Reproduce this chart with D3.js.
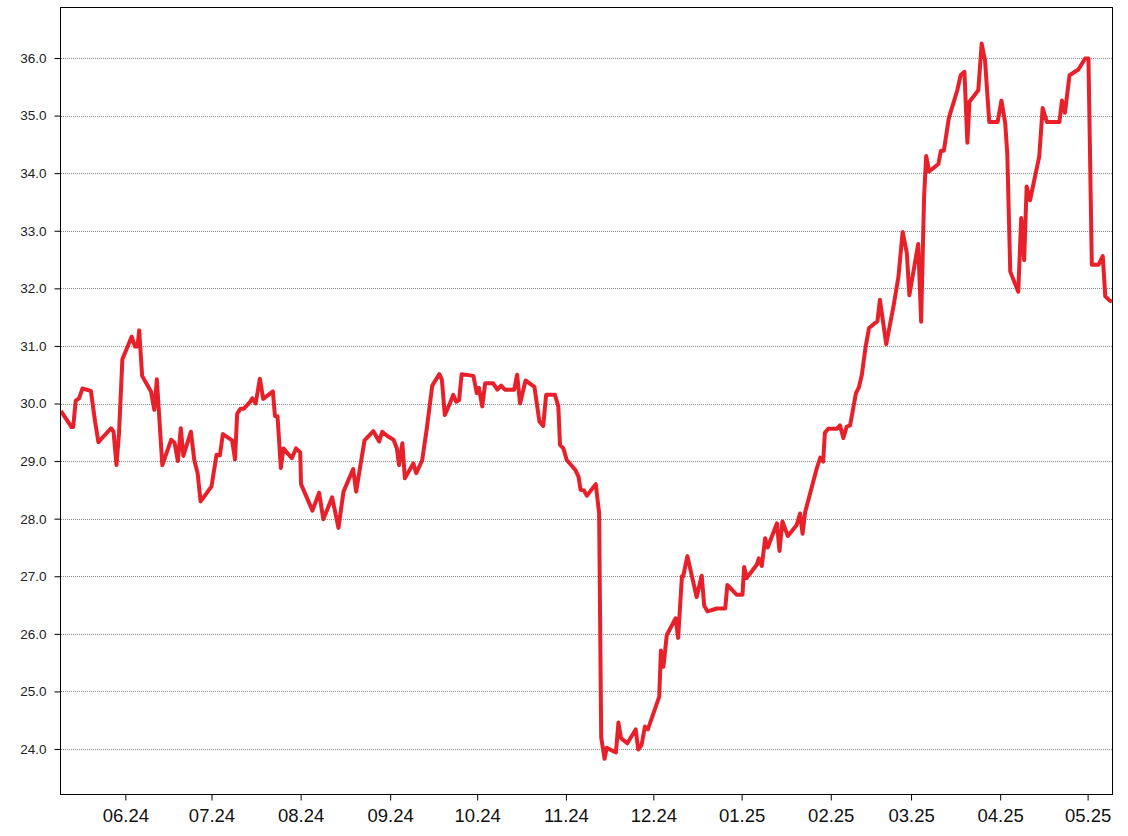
<!DOCTYPE html>
<html><head><meta charset="utf-8">
<script src="https://cdn.jsdelivr.net/npm/d3@7"></script>
<style>
html,body{margin:0;padding:0;background:#fff;}
svg{display:block;font-family:Arial,"Liberation Sans",sans-serif;}
</style></head>
<body><svg id="c" width="1128" height="836"></svg>
<script>
// trading-session index (0 = first session shown) and closing price
const sessions = [0,2.5,2.9,3.5,4.3,5.1,7.1,8.1,8.9,11.9,12.5,13.2,13.8,14.6,16.8,17.6,18.2,18.6,19.3,21.4,22.2,22.8,24.1,26.2,27.0,27.8,28.5,29.1,30.9,31.7,32.5,33.2,34.3,35.8,37.0,37.8,38.5,40.7,41.4,41.9,42.7,43.5,45.0,45.5,46.3,47.3,48.1,50.4,50.9,51.5,52.3,52.9,54.9,55.9,56.9,57.1,59.8,61.4,62.4,64.5,66.0,67.2,69.5,70.2,72.2,74.3,75.7,76.4,77.7,79.1,79.9,80.4,81.2,81.8,83.8,84.5,85.9,87.0,88.3,90.0,90.6,91.3,92.5,93.3,94.0,94.7,95.3,98.1,98.9,99.4,100.2,100.9,102.8,103.8,104.7,105.6,107.8,108.5,109.2,110.5,112.6,113.8,114.7,115.4,117.5,118.3,118.7,119.5,120.3,122.3,123.1,123.6,124.4,125.1,127.2,128.0,128.5,129.3,129.8,132.0,132.6,133.2,134.7,136.7,137.3,138.1,138.9,139.6,142.3,142.7,143.3,144.1,146.2,146.8,147.7,148.0,149.0,151.2,152.4,153.0,153.8,156.0,158.0,158.5,160.7,162.1,162.5,163.1,165.5,166.0,166.7,167.5,168.1,170.3,170.9,171.6,172.9,175.0,175.8,176.4,177.0,177.9,179.8,180.6,181.3,181.7,182.5,184.5,185.3,186.1,186.9,187.7,189.1,189.8,190.5,191.4,192.2,194.2,194.8,196.3,198.0,199.2,200.2,201.2,201.8,203.9,204.6,205.3,205.8,206.5,208.7,209.3,210.0,211.2,213.2,214.0,214.9,215.6,216.1,218.2,219.0,219.8,220.8,222.8,223.7,224.6,225.1,225.8,227.7,228.4,229.1,229.7,230.5,232.7,233.5,234.5,237.5,238.1,238.8,239.9,242.0,243.6,244.4,245.2,246.8,247.8,248.4,249.4,250];
const prices = [29.87,29.59,29.59,30.05,30.09,30.26,30.22,29.69,29.33,29.57,29.51,28.93,29.48,30.77,31.16,30.99,30.99,31.27,30.48,30.21,29.89,30.42,28.93,29.37,29.32,29.00,29.57,29.09,29.51,29.02,28.79,28.30,28.41,28.56,29.11,29.10,29.47,29.36,29.03,29.82,29.91,29.91,30.03,30.09,30.00,30.43,30.08,30.21,29.78,29.78,28.88,29.22,29.05,29.22,29.15,28.60,28.14,28.45,27.99,28.37,27.84,28.47,28.86,28.47,29.36,29.52,29.34,29.51,29.43,29.37,29.22,28.93,29.31,28.70,28.96,28.79,29.01,29.56,30.31,30.51,30.41,29.80,30.00,30.15,30.03,30.06,30.51,30.48,30.18,30.27,29.95,30.35,30.35,30.24,30.31,30.24,30.24,30.50,30.00,30.40,30.29,29.69,29.61,30.15,30.15,29.95,29.28,29.22,29.02,28.85,28.73,28.50,28.49,28.40,28.60,28.10,24.20,23.83,24.02,23.94,24.46,24.19,24.10,24.34,23.99,24.07,24.39,24.34,24.91,25.71,25.43,25.98,26.27,25.93,27.00,27.00,27.35,26.64,27.01,26.49,26.39,26.44,26.44,26.85,26.68,26.68,27.16,26.97,27.20,27.31,27.18,27.66,27.50,27.92,27.44,27.95,27.70,27.89,28.09,27.74,28.11,28.36,28.88,29.06,28.99,29.49,29.56,29.56,29.62,29.40,29.60,29.62,30.18,30.28,30.50,30.99,31.31,31.43,31.80,31.03,31.68,32.20,32.98,32.61,31.88,32.77,31.42,33.59,34.30,34.03,34.16,34.39,34.39,34.96,35.44,35.70,35.76,34.53,35.24,35.44,36.25,35.96,34.89,34.89,35.26,34.87,34.32,32.29,31.94,33.22,32.49,33.77,33.53,34.29,35.13,34.89,34.89,35.26,35.05,35.70,35.80,35.99,35.99,32.41,32.41,32.56,31.86,31.79,31.77];
// month starts, expressed on the same session axis
const tickSessions = [15.3,35.8,57.0,78.3,99.0,120.1,140.9,161.9,183.1,202.2,223.4,244.2];
const tickLabels = ["06.24","07.24","08.24","09.24","10.24","11.24","12.24","01.25","02.25","03.25","04.25","05.25"];
const yTicks = [24,25,26,27,28,29,30,31,32,33,34,35,36];

const svg = d3.select("#c");
const L = 61, R = 1112, T = 8, B = 794;
const x = d3.scaleLinear().domain([0, 250]).range([L, R]);
const y = d3.scaleLinear().domain([23.219, 36.868]).range([B, T]);

// grid
svg.append("g").selectAll("line").data(yTicks).join("line")
  .attr("x1", L).attr("x2", R)
  .attr("y1", d => Math.round(y(d)) + 0.5).attr("y2", d => Math.round(y(d)) + 0.5)
  .attr("stroke", "#8a8a8a").attr("stroke-width", 1).attr("stroke-dasharray", "1,1");

// y axis
const ya = svg.append("g").attr("transform", `translate(${L - 0.5},0)`)
  .call(d3.axisLeft(y).tickValues(yTicks).tickFormat(d3.format(".1f")).tickSize(6).tickSizeOuter(0));
ya.select(".domain").remove();
ya.selectAll(".tick line").attr("stroke", "#000");
ya.selectAll(".tick text").attr("font-size", 13.5).attr("fill", "#222").attr("x", -14).attr("font-family", "Arial, 'Liberation Sans', sans-serif");

// x axis
const xa = svg.append("g").attr("transform", `translate(0,${B + 0.5})`)
  .call(d3.axisBottom(x).tickValues(tickSessions).tickFormat((d, i) => tickLabels[i]).tickSize(6).tickSizeOuter(0));
xa.select(".domain").remove();
xa.selectAll(".tick line").attr("stroke", "#000");
xa.selectAll(".tick text").attr("font-size", 18.5).attr("fill", "#111").attr("y", 27.5).attr("dy", 0).attr("font-family", "Arial, 'Liberation Sans', sans-serif");

// frame
svg.append("rect").attr("x", L - 0.5).attr("y", T - 0.5).attr("width", R - L + 1).attr("height", B - T + 1)
  .attr("fill", "none").attr("stroke", "#000").attr("stroke-width", 1);

// line
svg.append("clipPath").attr("id", "pc").append("rect")
  .attr("x", L).attr("y", T).attr("width", R - L).attr("height", B - T);
const pts = sessions.map((s, i) => [s, prices[i]]);
svg.append("path").datum(pts)
  .attr("clip-path", "url(#pc)")
  .attr("fill", "none").attr("stroke", "#e8202a").attr("stroke-width", 4)
  .attr("stroke-linejoin", "round")
  .attr("d", d3.line().x(d => x(d[0])).y(d => y(d[1])));
</script>
</body></html>
